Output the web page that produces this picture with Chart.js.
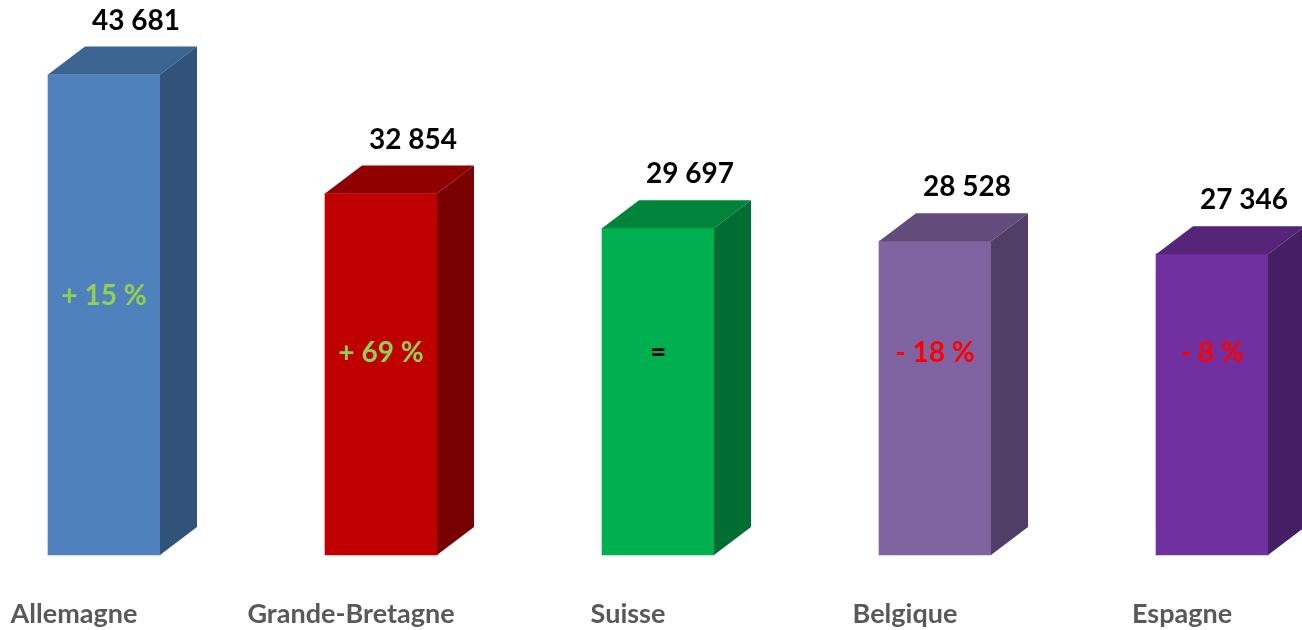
<!DOCTYPE html>
<html>
<head>
<meta charset="utf-8">
<script src="https://cdn.jsdelivr.net/npm/chart.js@4/dist/chart.umd.min.js"></script>
<style>
  html, body { margin: 0; padding: 0; background: #fff; }
  #wrap { width: 1302px; height: 630px; }
</style>
</head>
<body>
<div id="wrap"><canvas id="js--chart"></canvas></div>
<script>
// pays et valeurs
const pays = ["Allemagne", "Grande-Bretagne", "Suisse", "Belgique", "Espagne"];
const valeurs = [43681, 32854, 29697, 28528, 27346];
const evolution = ["+ 15 %", "+ 69 %", "=", "- 18 %", "- 8 %"];

// couleurs: face avant, dessus, cote
const couleurFace = ["#4f81bd", "#c00000", "#00b050", "#8064a2", "#7030a0"];
const couleurDessus = ["#3c6491", "#900000", "#00843c", "#624c7c", "#56257a"];
const couleurCote = ["#325379", "#780000", "#006e32", "#503e66", "#461e64"];
const couleurEvol = ["#92d050", "#92d050", "#000000", "#ff0000", "#ff0000"];

const FONT = "Lato, 'Open Sans', sans-serif";
const DX = 37, DY = 28;

function fmt(n) {
    return String(n).replace(/\B(?=(\d{3})+(?!\d))/g, " ");
}

const barres3d = {
    id: "barres3d",
    afterDatasetsDraw(chart) {
        const ctx = chart.ctx;
        const meta = chart.getDatasetMeta(0);
        ctx.save();
        ctx.textAlign = "center";
        ctx.textBaseline = "middle";
        meta.data.forEach(function (bar, i) {
            const l = bar.x - bar.width / 2;
            const r = bar.x + bar.width / 2;
            const t = bar.y;
            const b = bar.base;

            // dessus
            ctx.fillStyle = couleurDessus[i];
            ctx.beginPath();
            ctx.moveTo(l, t);
            ctx.lineTo(l + DX, t - DY);
            ctx.lineTo(r + DX, t - DY);
            ctx.lineTo(r, t);
            ctx.closePath();
            ctx.fill();

            // cote
            ctx.fillStyle = couleurCote[i];
            ctx.beginPath();
            ctx.moveTo(r, t);
            ctx.lineTo(r + DX, t - DY);
            ctx.lineTo(r + DX, b - DY);
            ctx.lineTo(r, b);
            ctx.closePath();
            ctx.fill();

            // valeur au dessus
            ctx.fillStyle = "#000";
            ctx.font = "bold 28px " + FONT;
            ctx.fillText(fmt(valeurs[i]), bar.x + 32, t - DY - 26);

            // evolution dans la barre
            ctx.fillStyle = couleurEvol[i];
            ctx.font = "bold 28px " + FONT;
            ctx.fillText(evolution[i], bar.x, Math.min(353, t + 221));

            // nom du pays sous la barre
            ctx.fillStyle = "#595959";
            ctx.font = "bold 27px " + FONT;
            ctx.fillText(pays[i], bar.x - 30, b + 59);
        });
        ctx.restore();
    }
};

const data = {
    labels: pays,
    datasets: [
        {
            data: valeurs,
            backgroundColor: couleurFace,
            borderWidth: 0,
            barThickness: 112,
            clip: false
        }
    ]
};

const config = {
    type: "bar",
    data: data,
    plugins: [barres3d],
    options: {
        responsive: true,
        maintainAspectRatio: false,
        animation: false,
        layout: { padding: { left: 104, right: 90, top: 5, bottom: 75 } },
        plugins: {
            legend: { display: false },
            tooltip: { enabled: false }
        },
        scales: {
            x: {
                display: false,
                offset: false
            },
            y: {
                display: false,
                min: 0,
                max: 50000
            }
        }
    }
};

new Chart(document.getElementById("js--chart"), config);
</script>
</body>
</html>
